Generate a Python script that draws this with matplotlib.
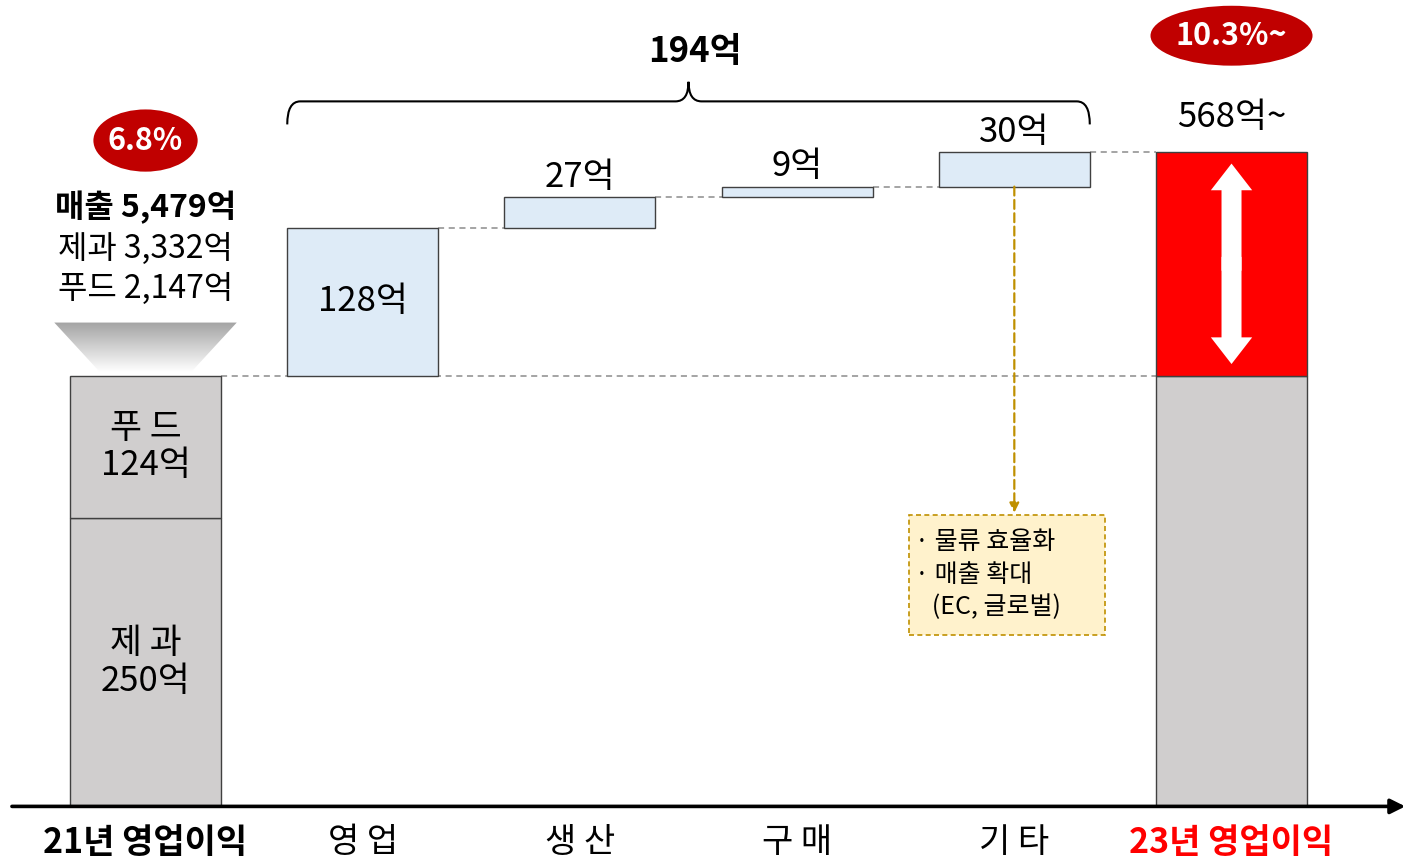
import numpy as np
import matplotlib
matplotlib.use("Agg")
import matplotlib.pyplot as plt
from matplotlib.patches import Ellipse, Polygon, PathPatch, Rectangle
from matplotlib.path import Path
from matplotlib.colors import LinearSegmentedColormap

plt.rcParams['font.family'] = ['Noto Sans CJK KR', 'DejaVu Sans']

# ---------------------------------------------------------------------------
# dados (억원)
# ---------------------------------------------------------------------------
categorias = ["21년 영업이익", "영 업", "생 산", "구 매", "기 타", "23년 영업이익"]
base_nomes = ["제 과", "푸 드"]
base_valores = [250, 124]
etapas = [128, 27, 9, 30]
linhas_vendas = ["매출 5,479억", "제과 3,332억", "푸드 2,147억"]
margens = ["6.8%", "10.3%~"]
notas = ["· 물류 효율화", "· 매출 확대", "   (EC, 글로벌)"]

base = sum(base_valores)
inicio = base + np.concatenate([[0], np.cumsum(etapas)[:-1]])
total = base + sum(etapas)

CINZA = "#D0CECE"
AZUL = "#DEEBF7"
BORDA = "#404040"
VERMELHO = "#FF0000"
VINHO = "#C00000"
OURO = "#BF9000"
W = 0.695

fig = plt.figure(figsize=(14.22, 8.64), dpi=100)
ax = fig.add_axes([0, 0, 1, 1])
ax.set_xlim(-0.67, 5.877)
ax.set_ylim(-50, 700)
ax.axis("off")

# linhas tracejadas de ligacao
tr = dict(color="#8C8C8C", lw=1.1, ls=(0, (4, 3)), zorder=1)
ax.plot([W / 2, 5 - W / 2], [base, base], **tr)
for i in range(len(etapas) - 1):
    ax.plot([i + 1 + W / 2, i + 2 - W / 2], [inicio[i] + etapas[i]] * 2, **tr)
ax.plot([len(etapas) + W / 2, 5 - W / 2], [total, total], **tr)

# barra inicial empilhada
fundo = 0
for nome, v in zip(base_nomes, base_valores):
    ax.bar(0, v, bottom=fundo, width=W, color=CINZA, edgecolor=BORDA, lw=1, zorder=2)
    ax.text(0, fundo + v / 2, f"{nome}\n{v}억", ha="center", va="center",
            fontsize=25, linespacing=1.1, zorder=3)
    fundo += v

# etapas (rotulo dentro da caixa se couber, senao logo acima)
for i, (v, b) in enumerate(zip(etapas, inicio)):
    ax.bar(i + 1, v, bottom=b, width=W, color=AZUL, edgecolor=BORDA, lw=1, zorder=2)
    if v >= 40:
        ax.text(i + 1, b + v / 2, f"{v}억", ha="center", va="center",
                fontsize=25, zorder=3)
    else:
        ax.text(i + 1, b + v + 2, f"{v}억", ha="center", va="bottom",
                fontsize=25, zorder=3)

# barra final
ax.bar(5, base, width=W, color=CINZA, edgecolor=BORDA, lw=1, zorder=2)
ax.bar(5, total - base, bottom=base, width=W, color=VERMELHO, edgecolor=BORDA,
       lw=1, zorder=2)
meio = (base + total) / 2
for fim, ini in ((total - 10, meio - 6), (base + 10, meio + 6)):
    ax.annotate("", xy=(5, fim), xytext=(5, ini),
                arrowprops=dict(arrowstyle="simple,head_width=0.62,head_length=0.4,tail_width=0.3",
                                mutation_scale=48, fc="white", ec="white", lw=0,
                                shrinkA=0, shrinkB=0), zorder=4)
ax.text(5, total + 30, f"{total}억~", ha="center", va="center", fontsize=25)

# eixo com seta
ax.annotate("", xy=(5.80, 0), xytext=(-0.615, 0),
            arrowprops=dict(arrowstyle="-|>", lw=2.6, color="black",
                            mutation_scale=22, shrinkA=0, shrinkB=0), zorder=5)

for i, cat in enumerate(categorias):
    bold = i in (0, len(categorias) - 1)
    cor = VERMELHO if i == len(categorias) - 1 else "black"
    ax.text(i, -31, cat, ha="center", va="center", fontsize=24.5,
            fontweight="bold" if bold else "normal", color=cor)

# texto de vendas + funil com degrade
for k, (txt, y) in enumerate(zip(linhas_vendas, [520, 484, 449])):
    ax.text(0, y, txt, ha="center", va="center", fontsize=23,
            fontweight="bold" if k == 0 else "normal")

yb, yt = base + 3, base + 46
funil = Polygon([(-0.42, yt), (0.42, yt), (0.21, yb), (-0.21, yb)],
                closed=True, fc="none", ec="none", transform=ax.transData)
ax.add_patch(funil)
grad = np.linspace(0, 1, 256).reshape(-1, 1)
cmap = LinearSegmentedColormap.from_list("g", ["white", "#A3A3A3"])
img = ax.imshow(grad, cmap=cmap, extent=(-0.42, 0.42, yb, yt), origin="lower",
                aspect="auto", zorder=1)
img.set_clip_path(funil)

# elipses com margem
for x, y, w, h, txt in [(0, 578, 0.48, 54, margens[0]), (5, 669, 0.746, 52, margens[1])]:
    ax.add_patch(Ellipse((x, y), w, h, fc=VINHO, ec="none", zorder=3))
    ax.text(x, y, txt, ha="center", va="center", fontsize=22,
            fontweight="bold", color="white", zorder=4)

# chave sobre as etapas
x0, x1 = 1 - W / 2, len(etapas) + W / 2
xm = (x0 + x1) / 2
ye, yh, yp, r = 592, 612, 629, 0.06
verts = [(x0, ye), (x0, yh), (x0 + r, yh), (xm - r, yh), (xm, yh), (xm, yp),
         (xm, yh), (xm + r, yh), (x1 - r, yh), (x1, yh), (x1, ye)]
codes = [Path.MOVETO, Path.CURVE3, Path.CURVE3, Path.LINETO, Path.CURVE3, Path.CURVE3,
         Path.CURVE3, Path.CURVE3, Path.LINETO, Path.CURVE3, Path.CURVE3]
ax.add_patch(PathPatch(Path(verts, codes), fc="none", ec="black", lw=1.5))
ax.text(xm + 0.03, 655, f"{sum(etapas)}억", ha="center", va="center", fontsize=25,
        fontweight="bold", style="italic")

# nota explicativa
xn = len(etapas)
ax.annotate("", xy=(xn, 255), xytext=(xn, inicio[-1]),
            arrowprops=dict(arrowstyle="-|>", lw=1.6, color=OURO, ls=(0, (4, 2)),
                            mutation_scale=14, shrinkA=0, shrinkB=0), zorder=3)
ax.add_patch(Rectangle((3.515, 149), 0.903, 104, fc="#FFF2CC", ec=OURO, lw=1.2,
                       ls=(0, (3, 2)), zorder=2))
for txt, y in zip(notas, [229.5, 201, 173]):
    ax.text(3.545, y, txt, ha="left", va="center", fontsize=18, style="italic", zorder=3)

fig.savefig("out.png", dpi=100)
